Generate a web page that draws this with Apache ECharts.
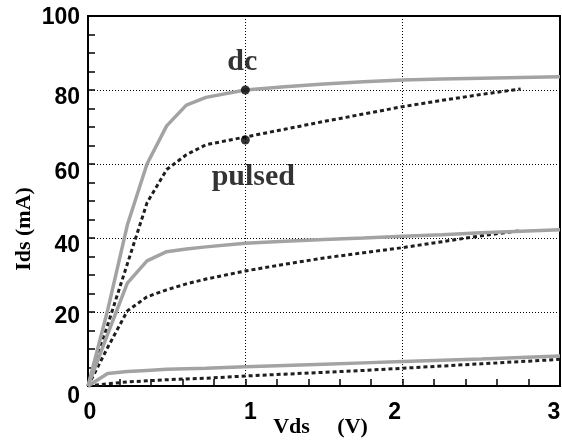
<!DOCTYPE html>
<html>
<head>
<meta charset="utf-8">
<script src="https://cdn.jsdelivr.net/npm/echarts@6/dist/echarts.min.js"></script>
<style>
html,body{margin:0;padding:0;background:#fff;}
#chart{width:562px;height:442px;}
</style>
</head>
<body>
<div id="chart"></div>
<script>
// ---- data (Vds in V, Ids in mA) ----
var vdsDc = [0, 0.125, 0.25, 0.375, 0.5, 0.625, 0.75, 1, 1.25, 1.5, 1.75, 2, 2.25, 2.5, 2.75, 3];
var dcHigh = [0, 20.5, 43.5, 60, 70.3, 75.9, 78, 80, 80.9, 81.6, 82.2, 82.7, 83, 83.2, 83.4, 83.6];
var dcMid  = [0, 14, 27.8, 33.8, 36.3, 37, 37.6, 38.6, 39.1, 39.6, 40, 40.5, 40.9, 41.4, 41.8, 42.2];
var dcLow  = [0, 3.4, 3.9, 4.2, 4.5, 4.65, 4.8, 5.2, 5.55, 5.9, 6.25, 6.6, 6.95, 7.3, 7.7, 8.1];

var vdsPulsed = [0, 0.125, 0.25, 0.375, 0.5, 0.625, 0.75, 1, 1.25, 1.5, 1.75, 2, 2.25, 2.5, 2.75];
var pulsedHigh = [0, 16.5, 33, 49.5, 58.5, 62.5, 65.2, 67.3, 69.4, 71.5, 73.5, 75.5, 77.2, 78.8, 80.3];
var pulsedMid  = [0, 10.4, 20.3, 24.1, 26, 27.6, 28.9, 31.1, 32.9, 34.6, 36, 37.4, 39, 40.6, 42];
var vdsPulsedLow = [0, 0.125, 0.25, 0.375, 0.5, 0.625, 0.75, 1, 1.25, 1.5, 1.75, 2, 2.25, 2.5, 2.75, 3];
var pulsedLow  = [0, 0.6, 1.1, 1.4, 1.7, 1.9, 2.1, 2.7, 3.2, 3.7, 4.2, 4.8, 5.4, 6.0, 6.6, 7.2];

var markerDc = [1, 80];
var markerPulsed = [1, 66.5];

var xTicks = [0, 1, 2, 3];
var yTicks = [0, 20, 40, 60, 80, 100];

function zip(xs, ys) { return xs.map(function (x, i) { return [x, ys[i]]; }); }

var numFont = '"Liberation Sans", Arial, sans-serif';
var serifFont = '"Liberation Serif", "Times New Roman", serif';

var dcStyle = { color: '#a3a3a3', width: 3.5, type: 'solid' };
var pulsedStyle = { color: '#1e1e1e', width: 3, type: [4, 3] };

function lineSeries(data, style, z) {
  return {
    type: 'line', data: data, showSymbol: false, symbol: 'none',
    lineStyle: style, z: z, animation: false, silent: true
  };
}

function yRich(lh) {
  return { fontSize: 23, fontWeight: 'bold', fontFamily: numFont, color: '#000', lineHeight: lh };
}

var chart = echarts.init(document.getElementById('chart'), null, { renderer: 'canvas' });

chart.setOption({
  backgroundColor: '#ffffff',
  animation: false,
  grid: {
    left: 88, top: 16, width: 472, height: 370,
    show: true, borderColor: '#000', borderWidth: 2, backgroundColor: 'transparent',
    containLabel: false, outerBoundsMode: 'none'
  },
  xAxis: {
    type: 'value', min: 0, max: 3, interval: 1,
    axisLine: { show: true, onZero: false, lineStyle: { color: '#000', width: 2 } },
    axisTick: { show: true, inside: true, length: 7, lineStyle: { color: '#000', width: 1.5 } },
    minorTick: { show: true, splitNumber: 5, length: 7, lineStyle: { color: '#000', width: 1.5 } },
    splitLine: { show: true, lineStyle: { color: '#000', width: 1, type: [1, 2] } },
    axisLabel: {
      margin: 15, color: '#000',
      formatter: function (v) { return '{x' + v + '|' + v + '}'; },
      rich: {
        x0: { fontSize: 23, fontWeight: 'bold', fontFamily: numFont, color: '#000', padding: [0, 0, 0, 4] },
        x1: { fontSize: 23, fontWeight: 'bold', fontFamily: numFont, color: '#000', padding: [0, 0, 0, 10] },
        x2: { fontSize: 23, fontWeight: 'bold', fontFamily: numFont, color: '#000', padding: [0, 16, 0, 0] },
        x3: { fontSize: 23, fontWeight: 'bold', fontFamily: numFont, color: '#000', padding: [0, 12, 0, 0] }
      },
      showMinLabel: true, showMaxLabel: true
    },
    name: 'Vds     (V)',
    nameLocation: 'middle', nameGap: 30, nameMoveOverlap: false,
    nameTextStyle: { fontFamily: serifFont, fontWeight: 'bold', fontSize: 22, color: '#000', padding: [0, 7, 0, 0] }
  },
  yAxis: {
    type: 'value', min: 0, max: 100, interval: 20,
    axisLine: { show: true, onZero: false, lineStyle: { color: '#000', width: 2 } },
    axisTick: { show: true, inside: true, length: 7, lineStyle: { color: '#000', width: 1.5 } },
    minorTick: { show: true, splitNumber: 4, length: 7, lineStyle: { color: '#000', width: 1.5 } },
    splitLine: { show: true, lineStyle: { color: '#000', width: 1, type: [1, 2] } },
    axisLabel: {
      margin: 8, color: '#000', verticalAlign: 'top',
      formatter: function (v) { return '{y' + v + '|' + v + '}'; },
      rich: {
        y0: yRich(22), y20: yRich(10), y40: yRich(16), y60: yRich(18), y80: yRich(16), y100: yRich(4)
      },
      showMinLabel: true, showMaxLabel: true
    },
    name: 'Ids (mA)',
    nameLocation: 'middle', nameGap: 53, nameRotate: 90, nameMoveOverlap: false,
    nameTextStyle: { fontFamily: serifFont, fontWeight: 'bold', fontSize: 22, color: '#000', padding: [0, 56, 0, 0] }
  },
  series: [
    lineSeries(zip(vdsPulsed, pulsedHigh), pulsedStyle, 2),
    lineSeries(zip(vdsPulsed, pulsedMid), pulsedStyle, 2),
    lineSeries(zip(vdsPulsedLow, pulsedLow), pulsedStyle, 2),
    lineSeries(zip(vdsDc, dcHigh), dcStyle, 3),
    lineSeries(zip(vdsDc, dcMid), dcStyle, 3),
    lineSeries(zip(vdsDc, dcLow), dcStyle, 3),
    {
      type: 'scatter', z: 5, animation: false, silent: true,
      symbol: 'circle', symbolSize: 9,
      itemStyle: { color: '#000' },
      data: [
        { value: markerDc, label: { show: true, formatter: 'dc', position: 'top', distance: 10, offset: [-3, 2] } },
        { value: markerPulsed, label: { show: true, formatter: 'pulsed', position: 'bottom', distance: 18, offset: [8, 0] } }
      ],
      label: { fontFamily: serifFont, fontWeight: 'bold', fontSize: 30, color: '#000' }
    }
  ]
});
</script>
</body>
</html>
